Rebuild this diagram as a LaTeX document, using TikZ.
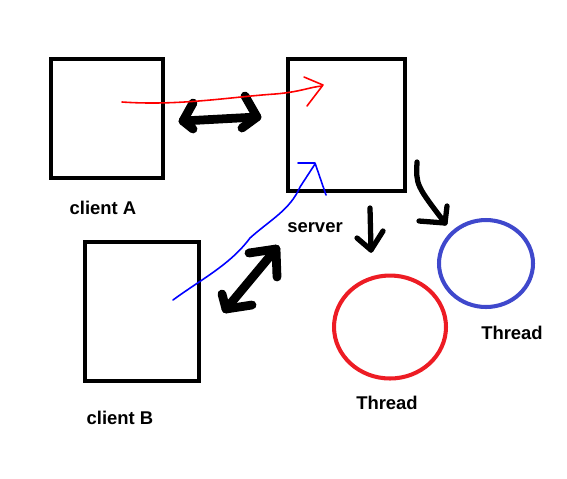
\documentclass[tikz,border=0pt]{standalone}
\usepackage{fontspec}
\setmainfont{Liberation Sans}
\usetikzlibrary{shapes.geometric}

\begin{document}
\begin{tikzpicture}[x=0.02cm, y=-0.02cm,
        box/.style={draw, line width=2.3pt, inner sep=0pt},
        ring/.style={ellipse, draw, line width=2.3pt, inner sep=0pt},
        tag/.style={font=\bfseries\fontsize{10.5}{12}\selectfont, inner sep=0pt},
        fat/.style={line width=5pt, line cap=round, line join=round},
        pen/.style={line width=0.9pt, line cap=round, line join=round}]
                \useasboundingbox (0,0) rectangle (567,478);
                \node[box, minimum width=2.24cm, minimum height=2.38cm] (clientA) at (107,118.5) {};
                \node[box, minimum width=2.34cm, minimum height=2.64cm] (server) at (346.5,125) {};
                \node[box, minimum width=2.28cm, minimum height=2.78cm] (clientB) at (142,311.5) {};
                \node[ring, draw={rgb,255:red,237;green,28;blue,36}, minimum width=2.24cm, minimum height=2.06cm] (threadR) at (390,327) {};
                \node[ring, draw={rgb,255:red,63;green,72;blue,204}, minimum width=1.88cm, minimum height=1.74cm] (threadB) at (486,263.5) {};
                \node[tag] (labelA) at (103,208) {client A};
                \node[tag] (labelB) at (120,418) {client B};
                \node[tag] (labelS) at (315,228) {server};
                \node[tag] (labelR) at (387,403) {Thread};
                \node[tag] (labelT) at (512,333) {Thread};
                % A <-> server
                \coordinate (ab1) at (183,121);
                \coordinate (ab2) at (257,117);
                \draw[fat] (ab1) -- (ab2);
                \draw[fat] (193,103) -- (ab1) -- (193,129);
                \draw[fat] (245,96) -- (ab2) -- (242,128);
                % B <-> server
                \coordinate (bs1) at (226,309);
                \coordinate (bs2) at (276,249);
                \draw[fat] (bs1) -- (bs2);
                \draw[fat] (249,253) -- (bs2) -- (277,277);
                \draw[fat] (222,294) -- (bs1) -- (252,305);
                % server -> threads
                \coordinate (st1) at (371,250);
                \draw[line width=3pt, line cap=round, line join=round] (370,208) -- (st1);
                \draw[line width=3pt, line cap=round, line join=round] (357,238) -- (st1) -- (383,231);
                \coordinate (st2) at (445,223);
                \draw[line width=3pt, line cap=round, line join=round] (417,162) .. controls (416,185) .. (st2);
                \draw[line width=3pt, line cap=round, line join=round] (419,221) -- (st2) -- (447,206);
                % messages
                \draw[pen, red] (122,102) .. controls (180,106) and (230,97) .. (275,94)
                    .. controls (300,92) and (310,87) .. (322,86);
                \draw[pen, red] (304,77) -- (323,85) -- (307,106);
                \draw[pen, blue] (173,300) .. controls (200,280) and (230,265) .. (250,238)
                    .. controls (270,220) and (290,210) .. (300,187) -- (315,164);
                \draw[pen, blue] (298,163) -- (315,163) -- (326,195);
            \end{tikzpicture}
\end{document}
